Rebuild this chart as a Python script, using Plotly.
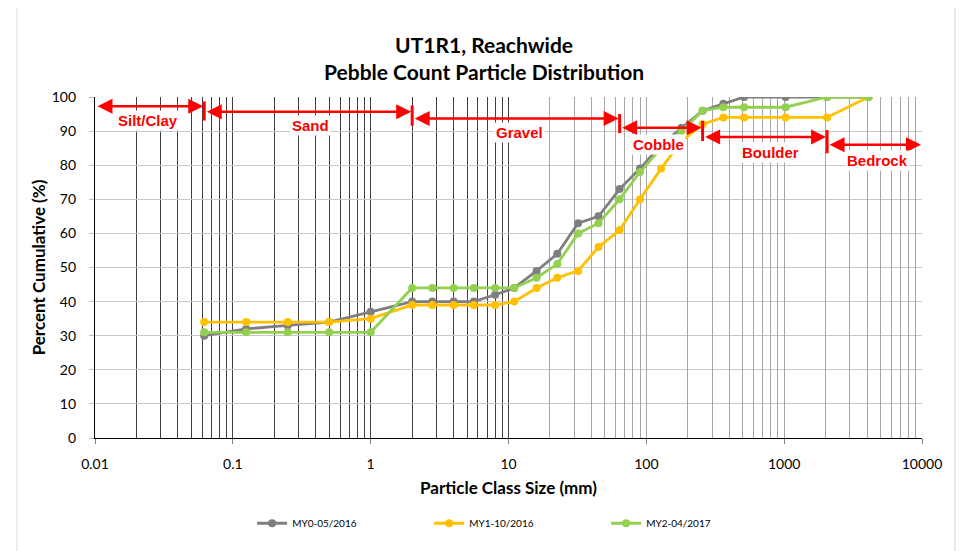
import math
import plotly.graph_objects as go

# ---------------- data ----------------
sizes = [0.062, 0.125, 0.25, 0.5, 1, 2, 2.8, 4, 5.6, 8, 11, 16, 22.6, 32, 45,
         64, 90, 128, 180, 256, 362, 512, 1024, 2048, 4096]
my0 = [30, 32, 33, 34, 37, 40, 40, 40, 40, 42, 44, 49, 54, 63, 65,
       73, 79, 86, 91, 96, 98, 100, 100, 100, 100]
my1 = [34, 34, 34, 34, 35, 39, 39, 39, 39, 39, 40, 44, 47, 49, 56,
       61, 70, 79, 87, 92, 94, 94, 94, 94, 100]
my2 = [31, 31, 31, 31, 31, 44, 44, 44, 44, 44, 44, 47, 51, 60, 63,
       70, 78, 85, 90, 96, 97, 97, 97, 100, 100]
series_names = ["MY0-05/2016", "MY1-10/2016", "MY2-04/2017"]

# size classes (arrow extents) and labels
class_names = ["Silt/Clay", "Sand", "Gravel", "Cobble", "Boulder", "Bedrock"]
class_edges = [0.01, 0.062, 2, 64, 256, 2048, 10000]
arrow_levels = [97.3, 95.7, 93.7, 91.0, 88.3, 86.0]
label_x = [0.0243, 0.363, 12.1, 122, 791, 4730]
label_y = [93.2, 91.7, 89.6, 86.1, 83.8, 81.4]
bar_top = [98.7, 97.5, 95.0, 93.0, 90.3]
bar_bottom = [93.1, 91.6, 89.4, 87.1, 83.5]

x_ticks = [0.01, 0.1, 1, 10, 100, 1000, 10000]
x_ticktext = ["0.01", "0.1", "1", "10", "100", "1000", "10000"]
y_ticks = list(range(0, 101, 10))

# ---------------- styling ----------------
colors = ["#7f7f7f", "#ffc000", "#92d050"]
RED = "#ff0000"
FONT = "Lato"

dark_grid = []
light_grid = []
for dec in [0.01, 0.1, 1, 10, 100, 1000]:
    for m in range(1, 11):
        v = round(dec * m, 6)
        if v <= 10:
            if v > 0.01:
                dark_grid.append(v)
        else:
            light_grid.append(v)
dark_grid = sorted(set(dark_grid))
light_grid = sorted(set(light_grid))

fig = go.Figure()
for i, (vals, name) in enumerate(zip([my0, my1, my2], series_names)):
    fig.add_trace(go.Scatter(
        x=sizes, y=vals, name=name, mode="lines+markers",
        line=dict(color=colors[i], width=2.8),
        marker=dict(color=colors[i], size=8),
        xaxis="x2" if i == 2 else "x",
    ))

annotations = []
for i, name in enumerate(class_names):
    x0 = math.log10(class_edges[i])
    x1 = math.log10(class_edges[i + 1])
    annotations.append(dict(
        x=x1, y=arrow_levels[i], ax=x0, ay=arrow_levels[i],
        xref="x", yref="y", axref="x", ayref="y",
        text="", showarrow=True, arrowside="end+start",
        arrowhead=2, startarrowhead=2, arrowsize=1.2, startarrowsize=1.2,
        arrowwidth=2.5, arrowcolor=RED, standoff=1, startstandoff=1,
    ))
    annotations.append(dict(
        x=math.log10(label_x[i]), y=label_y[i], xref="x", yref="y",
        text="<b>%s</b>" % name, showarrow=False,
        font=dict(family="Liberation Sans", size=15, color=RED),
        bgcolor="white", borderpad=1,
    ))

shapes = []
for j, edge in enumerate(class_edges[1:-1]):
    shapes.append(dict(type="line", xref="x", yref="y",
                       x0=edge, x1=edge, y0=bar_bottom[j], y1=bar_top[j],
                       line=dict(color=RED, width=3), layer="above"))
# chart-area border
shapes.append(dict(type="rect", xref="paper", yref="paper",
                   x0=-0.0943, x1=1.0399, y0=-0.34, y1=1.29,
                   line=dict(color="#d9d9d9", width=1), layer="below"))

fig.update_layout(
    width=956, height=543,
    margin=dict(l=87, r=42, t=89, b=113),
    paper_bgcolor="white", plot_bgcolor="white",
    font=dict(family=FONT, color="#000000"),
    title=dict(text="<b>UT1R1, Reachwide<br>Pebble Count Particle Distribution</b>",
               x=0.498, xanchor="center", y=0.918, yanchor="middle",
               font=dict(size=21, family=FONT, color="#000000")),
    xaxis=dict(
        type="log", range=[-2, 4],
        tickmode="array", tickvals=x_ticks, ticktext=x_ticktext,
        showgrid=False, showline=True, linecolor="#000000", linewidth=1.3,
        ticks="outside", ticklen=5, tickcolor="#7f7f7f",
        tickfont=dict(size=14, family=FONT, color="#000000"),
        ticklabelstandoff=8,
        minor=dict(tickmode="array", tickvals=dark_grid, showgrid=True,
                   gridcolor="#404040", gridwidth=1, ticks=""),
        title=dict(text="<b>Particle Class Size (mm)</b>",
                   font=dict(size=17, family=FONT, color="#000000"), standoff=11),
        zeroline=False,
    ),
    xaxis2=dict(
        type="log", range=[-2, 4], overlaying="x", anchor="y",
        tickmode="array", tickvals=light_grid, showticklabels=False,
        showgrid=True, gridcolor="#a6a6a6", gridwidth=1, ticks="",
        showline=False, zeroline=False,
    ),
    yaxis=dict(
        range=[0, 100], tickmode="array", tickvals=y_ticks,
        showgrid=True, gridcolor="#c8c8c8", gridwidth=1,
        showline=True, linecolor="#000000", linewidth=1.3,
        ticks="outside", ticklen=5, tickcolor="#bfbfbf",
        tickfont=dict(size=14, family=FONT, color="#000000"),
        ticklabelstandoff=10,
        title=dict(text="<b>Percent Cumulative (%)</b>",
                   font=dict(size=17, family=FONT, color="#000000"), standoff=1),
        zeroline=False,
    ),
    legend=dict(orientation="h", x=0.19, xanchor="left", y=-0.25, yanchor="middle",
                font=dict(size=10, family=FONT, color="#000000"),
                entrywidth=132, entrywidthmode="pixels",
                bgcolor="rgba(0,0,0,0)"),
    annotations=annotations,
    shapes=shapes,
)

fig.write_html("out.html")
